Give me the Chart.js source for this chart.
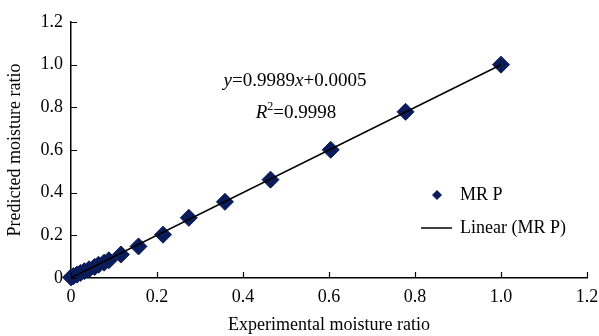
<!DOCTYPE html>
<html>
<head>
<meta charset="utf-8" />
<title>MR P</title>
<script src="https://cdn.jsdelivr.net/npm/chart.js"></script>
<style>
  body { margin: 0; background: #fff; }
  #wrap { width: 599px; height: 336px; }
</style>
</head>
<body>
<div id="wrap"><canvas id="grafico"></canvas></div>
<script>
// experimental vs predicted moisture ratio
const experimental = [0.0, 0.006, 0.014, 0.022, 0.031, 0.042, 0.055, 0.064, 0.077, 0.088, 0.116, 0.157, 0.214, 0.274, 0.358, 0.464, 0.604, 0.778, 1.0];
const predicted    = [0.003, 0.009, 0.016, 0.024, 0.032, 0.041, 0.052, 0.062, 0.072, 0.083, 0.11, 0.148, 0.203, 0.282, 0.357, 0.461, 0.601, 0.779, 1.0];
const slope = 0.9989;
const intercept = 0.0005;
const axisTicks = [0, 0.2, 0.4, 0.6, 0.8, 1.0, 1.2];

const serif = "'Liberation Serif', 'Times New Roman', serif";
const navy = '#0b1c5a';

const puntos = experimental.map((x, i) => ({ x: x, y: predicted[i] }));
const xMin = Math.min(...experimental), xMax = Math.max(...experimental);
const linea = [
  { x: xMin, y: slope * xMin + intercept },
  { x: xMax, y: slope * xMax + intercept }
];

// inner tick marks, equation and legend
const extras = {
  id: 'extras',
  afterDraw(chart) {
    const ctx = chart.ctx;
    const xs = chart.scales.x, ys = chart.scales.y;
    ctx.save();
    ctx.strokeStyle = '#000';
    ctx.lineWidth = 1.2;
    ctx.beginPath();
    axisTicks.forEach(t => {
      const px = Math.round(xs.getPixelForValue(t)) + 0.5;
      ctx.moveTo(px, xs.top);
      ctx.lineTo(px, xs.top - 6);
      const py = Math.round(ys.getPixelForValue(t)) + 0.5;
      ctx.moveTo(ys.right, py);
      ctx.lineTo(ys.right + 6, py);
    });
    ctx.stroke();

    // equation
    ctx.fillStyle = '#000';
    ctx.textBaseline = 'alphabetic';
    const parts = [
      ['italic 19px ' + serif, 'y'],
      ['19px ' + serif, '=0.9989'],
      ['italic 19px ' + serif, 'x'],
      ['19px ' + serif, '+0.0005']
    ];
    let w = 0;
    parts.forEach(p => { ctx.font = p[0]; w += ctx.measureText(p[1]).width; });
    let cx = 295 - w / 2;
    parts.forEach(p => { ctx.font = p[0]; ctx.fillText(p[1], cx, 86); cx += ctx.measureText(p[1]).width; });

    const r2 = [
      ['italic 19px ' + serif, 'R', 0],
      ['12px ' + serif, '2', -8],
      ['19px ' + serif, '=0.9998', 0]
    ];
    w = 0;
    r2.forEach(p => { ctx.font = p[0]; w += ctx.measureText(p[1]).width; });
    cx = 296 - w / 2;
    r2.forEach(p => { ctx.font = p[0]; ctx.fillText(p[1], cx, 118 + p[2]); cx += ctx.measureText(p[1]).width; });

    // legend
    ctx.fillStyle = navy;
    ctx.beginPath();
    ctx.moveTo(437, 190); ctx.lineTo(442, 195); ctx.lineTo(437, 200); ctx.lineTo(432, 195);
    ctx.closePath();
    ctx.fill();
    ctx.strokeStyle = '#000';
    ctx.lineWidth = 1.5;
    ctx.beginPath();
    ctx.moveTo(421, 228); ctx.lineTo(452, 228);
    ctx.stroke();
    ctx.fillStyle = '#000';
    ctx.font = '18px ' + serif;
    ctx.textBaseline = 'middle';
    ctx.fillText('MR P', 460, 195);
    ctx.fillText('Linear (MR P)', 460, 228);
    ctx.restore();
  }
};

const etiqueta = v => (v === 0 ? '0' : v.toFixed(1));

new Chart(document.getElementById('grafico'), {
  type: 'scatter',
  data: {
    datasets: [
      {
        label: 'Linear (MR P)',
        type: 'line',
        data: linea,
        borderColor: '#000',
        borderWidth: 1.5,
        pointRadius: 0,
        fill: false
      },
      {
        label: 'MR P',
        data: puntos,
        pointStyle: 'rectRot',
        pointRadius: 8.5,
        backgroundColor: navy,
        borderColor: navy,
        borderWidth: 1,
        clip: false
      }
    ]
  },
  options: {
    responsive: true,
    maintainAspectRatio: false,
    animation: false,
    layout: { padding: { top: 22, right: 12, left: 0, bottom: 0 } },
    plugins: { legend: { display: false }, tooltip: { enabled: false } },
    scales: {
      x: {
        type: 'linear',
        min: 0, max: 1.2,
        afterBuildTicks: s => { s.ticks = axisTicks.map(v => ({ value: v })); },
        afterFit: s => { s.height = 58; s.paddingRight = 0; s.paddingLeft = 0; },
        grid: { display: false, drawTicks: false },
        border: { display: true, color: '#000', width: 1.5 },
        ticks: { color: '#000', font: { family: serif, size: 18 }, padding: 8, maxRotation: 0, callback: etiqueta },
        title: { display: true, text: 'Experimental moisture ratio', color: '#000', font: { family: serif, size: 18 }, padding: { top: 0, bottom: 0 } }
      },
      y: {
        type: 'linear',
        min: 0, max: 1.2,
        afterBuildTicks: s => { s.ticks = axisTicks.map(v => ({ value: v })); },
        afterFit: s => { s.width = 71; s.paddingTop = 0; s.paddingBottom = 0; },
        grid: { display: false, drawTicks: false },
        border: { display: true, color: '#000', width: 1.5 },
        ticks: { color: '#000', font: { family: serif, size: 18 }, padding: 8, callback: etiqueta },
        title: { display: true, text: 'Predicted moisture ratio', color: '#000', font: { family: serif, size: 18 }, padding: { top: 4, bottom: 2 } }
      }
    }
  },
  plugins: [extras]
});
</script>
</body>
</html>
